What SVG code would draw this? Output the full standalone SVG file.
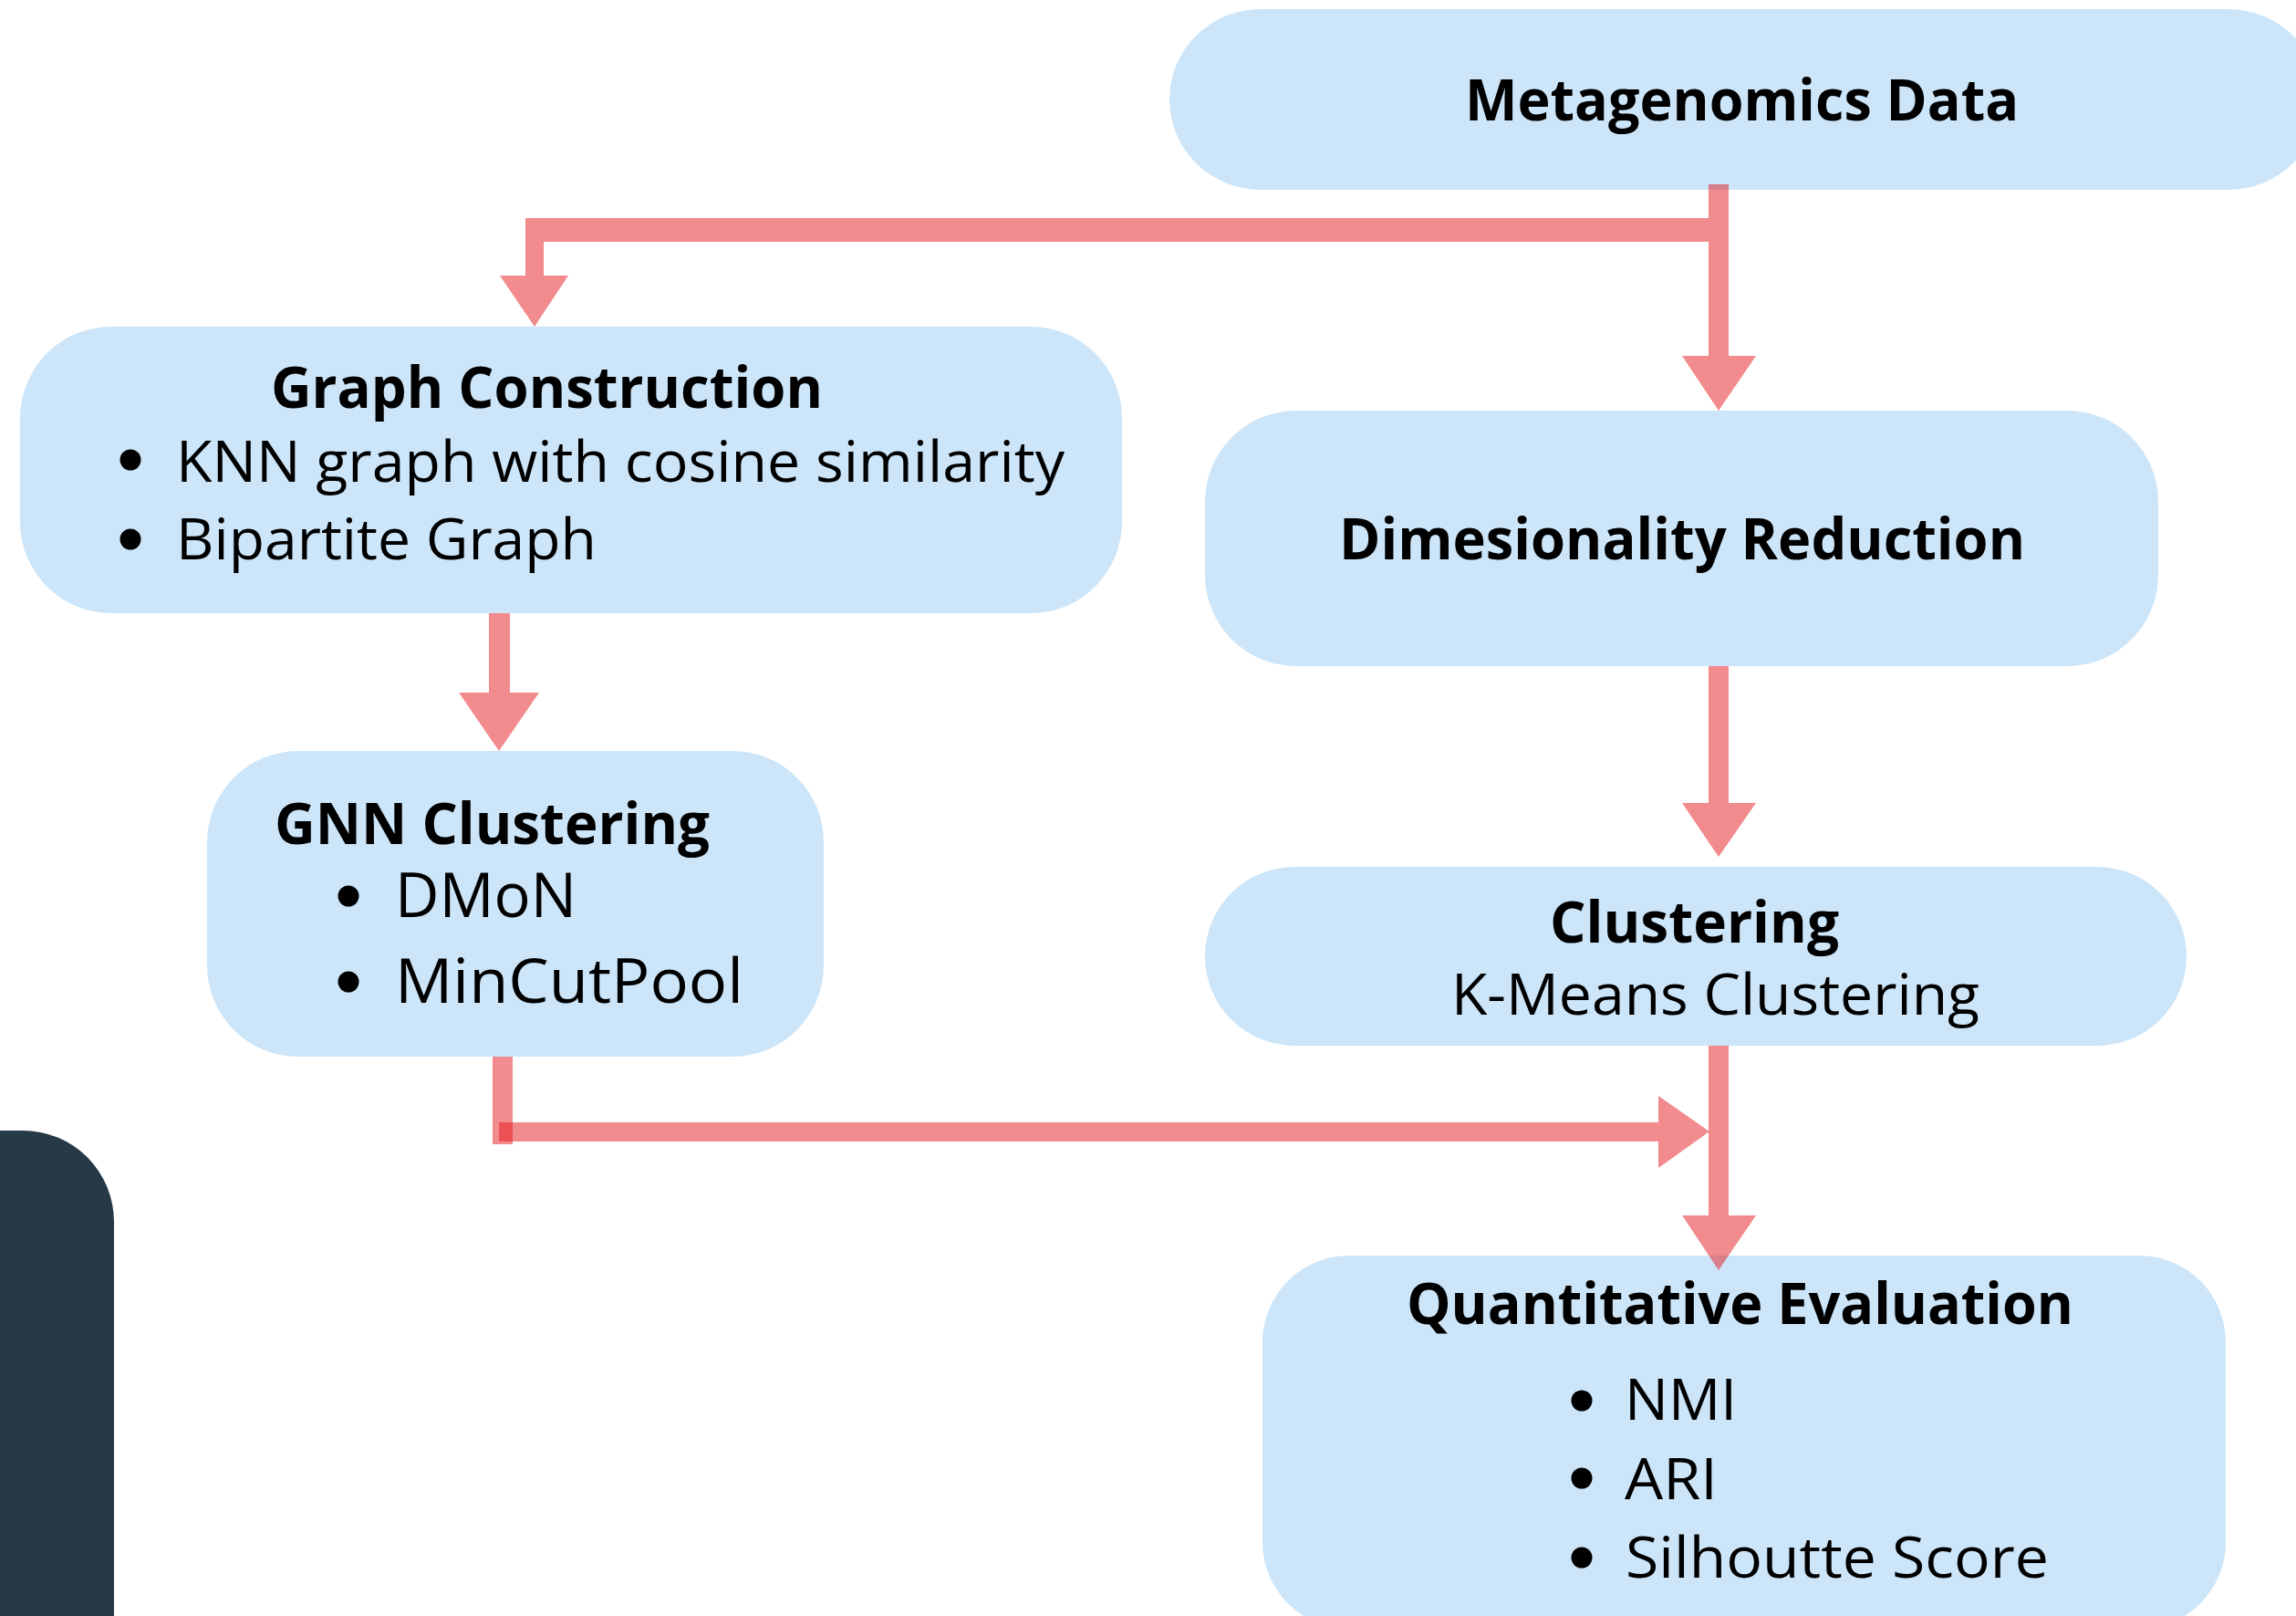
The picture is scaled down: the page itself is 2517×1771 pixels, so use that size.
<svg xmlns="http://www.w3.org/2000/svg" width="2517" height="1771" viewBox="0 0 2517 1771">
  <style>
    .node { fill: #CCE5F8; }
    .title { font-family: "Open Sans", "Noto Sans", "Liberation Sans", sans-serif; font-weight: 700; font-size: 63px; fill: #000; }
    .item { font-family: "Open Sans", "Noto Sans", "Liberation Sans", sans-serif; font-weight: 400; font-size: 63px; fill: #000; }
    .big { font-size: 68px; }
    .dot { fill: #000; }
    .conn { fill: #E5171D; fill-opacity: 0.5; }
  </style>

  <rect width="2517" height="1771" fill="#FFFFFF"/>

  <!-- dark side panel, bottom left -->
  <rect x="-100" y="1239" width="225" height="700" rx="100" ry="100" fill="#263947"/>

  <!-- nodes -->
  <g id="metagenomics-data">
    <rect class="node" x="1282" y="10" width="1261" height="198" rx="100" ry="100"/>
    <text class="title" x="1606" y="132" textLength="607" lengthAdjust="spacingAndGlyphs">Metagenomics Data</text>
  </g>

  <g id="graph-construction">
    <rect class="node" x="22" y="358" width="1208" height="314" rx="100" ry="100"/>
    <text class="title" x="297" y="447" textLength="605" lengthAdjust="spacingAndGlyphs">Graph Construction</text>
    <circle class="dot" cx="143" cy="504" r="11.5"/>
    <text class="item" x="193" y="528" textLength="974" lengthAdjust="spacingAndGlyphs">KNN graph with cosine similarity</text>
    <circle class="dot" cx="143" cy="591" r="11.5"/>
    <text class="item" x="193" y="613" textLength="461" lengthAdjust="spacingAndGlyphs">Bipartite Graph</text>
  </g>

  <g id="gnn-clustering">
    <rect class="node" x="227" y="823" width="676" height="335" rx="100" ry="100"/>
    <text class="title" x="301" y="925" textLength="477" lengthAdjust="spacingAndGlyphs">GNN Clustering</text>
    <circle class="dot" cx="382" cy="982" r="11.5"/>
    <text class="item big" x="433" y="1005" textLength="199" lengthAdjust="spacingAndGlyphs">DMoN</text>
    <circle class="dot" cx="382" cy="1076" r="11.5"/>
    <text class="item big" x="433" y="1099" textLength="382" lengthAdjust="spacingAndGlyphs">MinCutPool</text>
  </g>

  <g id="dimensionality-reduction">
    <rect class="node" x="1321" y="450" width="1045" height="280" rx="100" ry="100"/>
    <text class="title" x="1468" y="613" textLength="752" lengthAdjust="spacingAndGlyphs">Dimesionality Reduction</text>
  </g>

  <g id="clustering">
    <rect class="node" x="1321" y="950" width="1076" height="196" rx="98" ry="98"/>
    <text class="title" x="1699" y="1033" textLength="317" lengthAdjust="spacingAndGlyphs">Clustering</text>
    <text class="item" x="1591" y="1112" textLength="579" lengthAdjust="spacingAndGlyphs">K-Means Clustering</text>
  </g>

  <g id="quantitative-evaluation">
    <rect class="node" x="1384" y="1376" width="1056" height="409" rx="95" ry="95"/>
    <text class="title" x="1542" y="1451" textLength="731" lengthAdjust="spacingAndGlyphs">Quantitative Evaluation</text>
    <circle class="dot" cx="1734" cy="1535" r="11.5"/>
    <text class="item" x="1781" y="1556" textLength="123" lengthAdjust="spacingAndGlyphs">NMI</text>
    <circle class="dot" cx="1734" cy="1620" r="11.5"/>
    <text class="item" x="1781" y="1643" textLength="102" lengthAdjust="spacingAndGlyphs">ARI</text>
    <circle class="dot" cx="1734" cy="1707" r="11.5"/>
    <text class="item" x="1782" y="1729" textLength="464" lengthAdjust="spacingAndGlyphs">Silhoutte Score</text>
  </g>

  <!-- connectors -->
  <g id="connectors">
    <!-- Metagenomics Data -> Dimensionality Reduction -->
    <rect class="conn" x="1873" y="202" width="22" height="188"/>
    <polygon class="conn" points="1844,390 1925,390 1884,450"/>

    <!-- Metagenomics Data -> Graph Construction (branch to the left) -->
    <rect class="conn" x="576" y="239" width="1297" height="26"/>
    <rect class="conn" x="576" y="265" width="20" height="37"/>
    <polygon class="conn" points="548,302 623,302 586,358"/>

    <!-- Graph Construction -> GNN Clustering -->
    <rect class="conn" x="536" y="672" width="23" height="87"/>
    <polygon class="conn" points="503,759 591,759 547,823"/>

    <!-- Dimensionality Reduction -> Clustering -->
    <rect class="conn" x="1873" y="730" width="22" height="150"/>
    <polygon class="conn" points="1844,880 1925,880 1884,939"/>

    <!-- Clustering -> Quantitative Evaluation -->
    <rect class="conn" x="1873" y="1146" width="22" height="186"/>
    <polygon class="conn" points="1844,1332 1925,1332 1884,1392"/>

    <!-- GNN Clustering -> merge into the evaluation line -->
    <rect class="conn" x="540" y="1158" width="22" height="96"/>
    <rect class="conn" x="547" y="1230" width="1271" height="21"/>
    <polygon class="conn" points="1818,1201 1818,1280 1874,1240"/>
  </g>
</svg>
